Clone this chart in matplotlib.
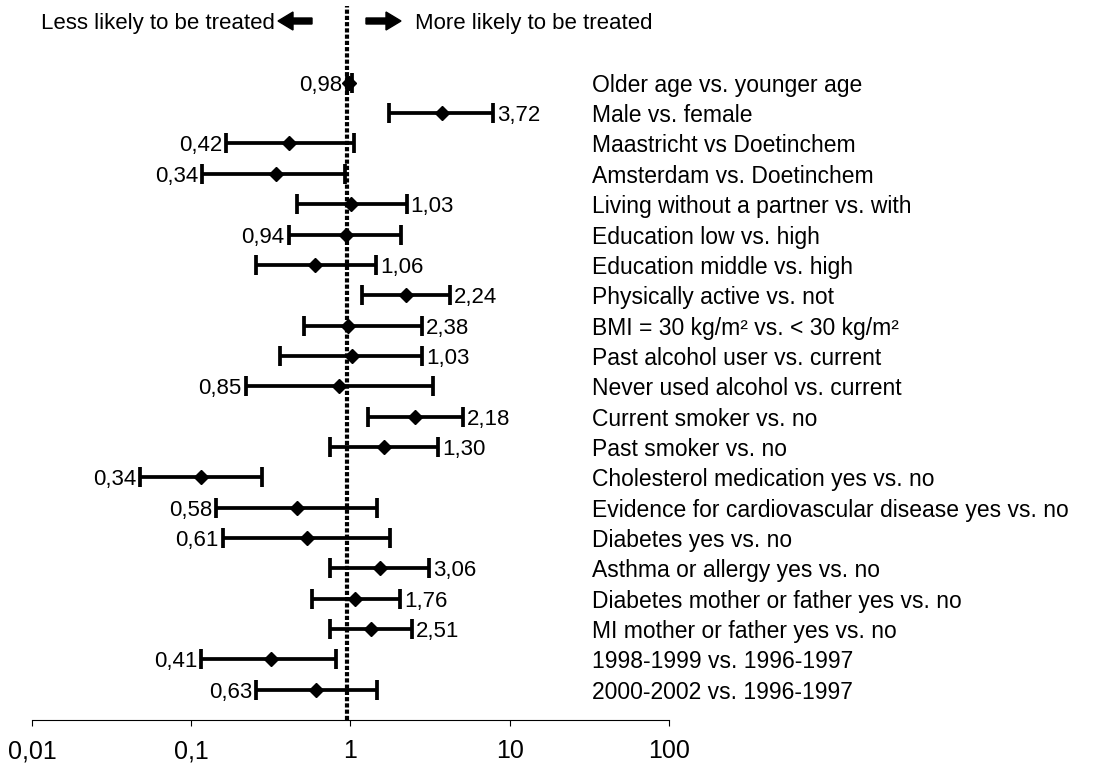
import matplotlib.pyplot as plt
import matplotlib.transforms as mtransforms
from matplotlib.patches import FancyArrow
from matplotlib.ticker import FixedLocator, NullLocator
import numpy as np

plt.rcParams["font.family"] = ["Liberation Sans", "DejaVu Sans"]

categories = [
    "Older age vs. younger age",
    "Male vs. female",
    "Maastricht vs Doetinchem",
    "Amsterdam vs. Doetinchem",
    "Living without a partner vs. with",
    "Education low vs. high",
    "Education middle vs. high",
    "Physically active vs. not",
    "BMI = 30 kg/m\u00b2 vs. < 30 kg/m\u00b2",
    "Past alcohol user vs. current",
    "Never used alcohol vs. current",
    "Current smoker vs. no",
    "Past smoker vs. no",
    "Cholesterol medication yes vs. no",
    "Evidence for cardiovascular disease yes vs. no",
    "Diabetes yes vs. no",
    "Asthma or allergy yes vs. no",
    "Diabetes mother or father yes vs. no",
    "MI mother or father yes vs. no",
    "1998-1999 vs. 1996-1997",
    "2000-2002 vs. 1996-1997",
]

# odds ratio (diamond) and 95% CI
odds = [0.98, 3.74, 0.41, 0.34, 1.01, 0.94, 0.60, 2.23, 0.96, 1.02, 0.85,
        2.54, 1.62, 0.116, 0.46, 0.53, 1.53, 1.07, 1.35, 0.317, 0.61]
ci_low = [0.95, 1.74, 0.166, 0.117, 0.46, 0.41, 0.254, 1.19, 0.51, 0.36, 0.22,
          1.29, 0.74, 0.048, 0.144, 0.158, 0.74, 0.574, 0.74, 0.116, 0.256]
ci_high = [1.02, 7.8, 1.05, 0.92, 2.25, 2.09, 1.44, 4.22, 2.8, 2.8, 3.31,
           5.06, 3.53, 0.279, 1.47, 1.78, 3.11, 2.05, 2.44, 0.81, 1.47]

# value labels as printed next to each whisker
value_labels = [0.98, 3.72, 0.42, 0.34, 1.03, 0.94, 1.06, 2.24, 2.38, 1.03, 0.85,
                2.18, 1.30, 0.34, 0.58, 0.61, 3.06, 1.76, 2.51, 0.41, 0.63]

x_ticks = [0.01, 0.1, 1, 10, 100]
x_tick_labels = ["0,01", "0,1", "1", "10", "100"]

FS = 16
ref_x = 0.955  # dotted reference line sits a hair left of 1 in the original

fig = plt.figure(figsize=(10.95, 7.63), dpi=100)
ax = fig.add_axes([0.0292, 0.0564, 0.5817, 0.9357])

rows = np.arange(len(categories))
odds_arr = np.array(odds)
xerr = [odds_arr - np.array(ci_low), np.array(ci_high) - odds_arr]

ax.axvline(ref_x, color="black", lw=3.0, linestyle=(0, (1.0, 0.5)), zorder=1)
ax.errorbar(
    odds_arr, rows, xerr=xerr, fmt="D", color="black", ms=7,
    elinewidth=2.7, capsize=7, capthick=2.7, zorder=3,
)

for i, val in enumerate(value_labels):
    txt = f"{val:.2f}".replace(".", ",")
    if val < 1:
        ax.annotate(txt, xy=(ci_low[i], rows[i]), xytext=(-3, 0),
                    textcoords="offset points", ha="right", va="center_baseline",
                    fontsize=FS)
    else:
        ax.annotate(txt, xy=(ci_high[i], rows[i]), xytext=(3, 0),
                    textcoords="offset points", ha="left", va="center_baseline",
                    fontsize=FS)

label_trans = mtransforms.blended_transform_factory(ax.transAxes, ax.transData)
for i, cat in enumerate(categories):
    ax.text(0.879, rows[i], cat, transform=label_trans, ha="left",
            va="center_baseline", fontsize=16.5)

ax.set_xscale("log")
ax.set_xlim(0.01, 100)
ax.set_ylim(21, -2.53)
ax.xaxis.set_major_locator(FixedLocator(x_ticks))
ax.xaxis.set_minor_locator(NullLocator())
ax.set_xticklabels(x_tick_labels)
ax.tick_params(axis="x", direction="out", length=4, width=0.8, pad=10, labelsize=18)
ax.set_yticks([])
for side in ("top", "left", "right"):
    ax.spines[side].set_visible(False)
ax.spines["bottom"].set_linewidth(0.8)
ax.patch.set_alpha(0)

# header with block arrows
fig.text(275 / 1095, 1 - 21 / 763, "Less likely to be treated", ha="right",
         va="center_baseline", fontsize=FS)
fig.text(415 / 1095, 1 - 21 / 763, "More likely to be treated", ha="left",
         va="center_baseline", fontsize=FS)
arrow_y = 7.63 - 0.21
for x0, dx in ((3.12, -0.34), (3.66, 0.35)):
    fig.add_artist(FancyArrow(
        x0, arrow_y, dx, 0, width=0.06, head_width=0.18, head_length=0.15,
        length_includes_head=True, color="black", transform=fig.dpi_scale_trans,
    ))

fig.savefig("out.png", dpi=100)
